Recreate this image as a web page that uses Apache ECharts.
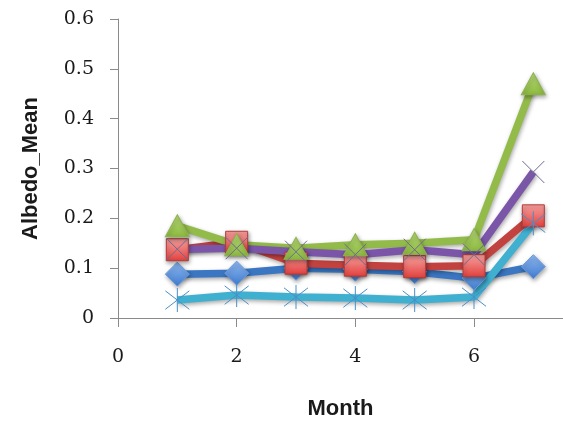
<!DOCTYPE html>
<html>
<head>
<meta charset="utf-8">
<title>Albedo_Mean by Month</title>
<script src="https://cdn.jsdelivr.net/npm/echarts@6/dist/echarts.min.js"></script>
<style>
  html, body { margin: 0; padding: 0; background: #ffffff; }
  #chart { width: 563px; height: 426px; }
</style>
</head>
<body>
<div id="chart"></div>
<script>
// Months 1..7 and the mean albedo of each of the five sites
var months = [1, 2, 3, 4, 5, 6, 7];
var seriesBlue   = [0.088, 0.090, 0.100, 0.098, 0.093, 0.080, 0.103];
var seriesRed    = [0.137, 0.152, 0.110, 0.106, 0.103, 0.105, 0.205];
var seriesGreen  = [0.185, 0.147, 0.140, 0.147, 0.150, 0.157, 0.470];
var seriesPurple = [0.138, 0.140, 0.133, 0.127, 0.137, 0.127, 0.293];
var seriesCyan   = [0.036, 0.046, 0.042, 0.040, 0.036, 0.042, 0.190];

var xTicks = [0, 2, 4, 6];
var yTicks = [0, 0.1, 0.2, 0.3, 0.4, 0.5, 0.6];

function pairs(values) {
  return months.map(function (m, i) { return [m, values[i]]; });
}

function grad(top, bottom) {
  return new echarts.graphic.LinearGradient(0, 0, 0, 1, [
    { offset: 0, color: top },
    { offset: 1, color: bottom }
  ]);
}

var shadow = { shadowColor: 'rgba(0,0,0,0.35)', shadowBlur: 4, shadowOffsetX: 1, shadowOffsetY: 2 };

function lineSeries(name, values, color, symbol, size, itemStyle) {
  return {
    name: name,
    type: 'line',
    data: pairs(values),
    symbol: symbol,
    symbolSize: size,
    showAllSymbol: true,
    lineStyle: Object.assign({ color: color, width: 7.5 }, shadow),
    itemStyle: itemStyle,
    emphasis: { disabled: true },
    z: 2
  };
}

var crossPath = 'path://M0,0L10,10M10,0L0,10';
var starPath = 'path://M0,0L10,10M10,0L0,10M5,-1.5L5,11.5';

var chart = echarts.init(document.getElementById('chart'));
chart.setOption({
  animation: false,
  backgroundColor: '#ffffff',
  // the value axis runs on past the right edge of the canvas
  grid: { left: 118, right: 0, top: 19, bottom: 108 },
  xAxis: {
    type: 'value',
    min: 0,
    max: 7.5,
    interval: 2,
    name: 'Month',
    nameLocation: 'middle',
    nameGap: 80,
    nameTextStyle: { fontFamily: 'Liberation Sans', fontWeight: 'bold', fontSize: 22, color: '#1a1a1a', padding: [0, 0, 0, 0] },
    axisLine: { lineStyle: { color: '#8a8a8a', width: 1 } },
    axisTick: {
      show: true, length: 9, lineStyle: { color: '#8a8a8a' },
      customValues: xTicks
    },
    axisLabel: {
      margin: 30,
      fontFamily: 'DejaVu Serif',
      fontSize: 19,
      color: '#1a1a1a',
      customValues: xTicks,
      formatter: function (v) { return String(v); }
    },
    splitLine: { show: false }
  },
  yAxis: {
    type: 'value',
    min: 0,
    max: 0.6,
    interval: 0.1,
    name: 'Albedo_Mean',
    nameLocation: 'middle',
    nameGap: 76,
    nameTextStyle: { fontFamily: 'Liberation Sans', fontWeight: 'bold', fontSize: 22, color: '#1a1a1a' },
    axisLine: { show: true, lineStyle: { color: '#8a8a8a', width: 1 } },
    axisTick: { show: true, length: 8, lineStyle: { color: '#8a8a8a' } },
    axisLabel: {
      margin: 24,
      fontFamily: 'DejaVu Serif',
      fontSize: 19,
      color: '#1a1a1a',
      formatter: function (v) { return String(Math.round(v * 10) / 10); }
    },
    splitLine: { show: false }
  },
  series: [
    lineSeries('Blue', seriesBlue, '#3a76c2', 'diamond', [24, 24],
      Object.assign({ color: grad('#8fb8ef', '#3f7cd0'), borderColor: '#6d9be0', borderWidth: 1 }, shadow)),
    lineSeries('Red', seriesRed, '#c2423f', 'rect', [22, 22],
      Object.assign({ color: grad('#f7a3a1', '#e2403d'), borderColor: '#b53a37', borderWidth: 1 }, shadow)),
    lineSeries('Green', seriesGreen, '#93bb4a', 'triangle', [24, 22],
      Object.assign({ color: grad('#b7da78', '#8cba3f'), borderColor: '#8fb24f', borderWidth: 1 }, shadow)),
    lineSeries('Purple', seriesPurple, '#7a55a8', crossPath, [22, 22],
      { color: 'none', borderColor: '#6e6a90', borderWidth: 1 }),
    lineSeries('Cyan', seriesCyan, '#3fb0d0', starPath, [24, 24],
      { color: 'none', borderColor: '#4a8fc8', borderWidth: 1 })
  ]
});
</script>
</body>
</html>
